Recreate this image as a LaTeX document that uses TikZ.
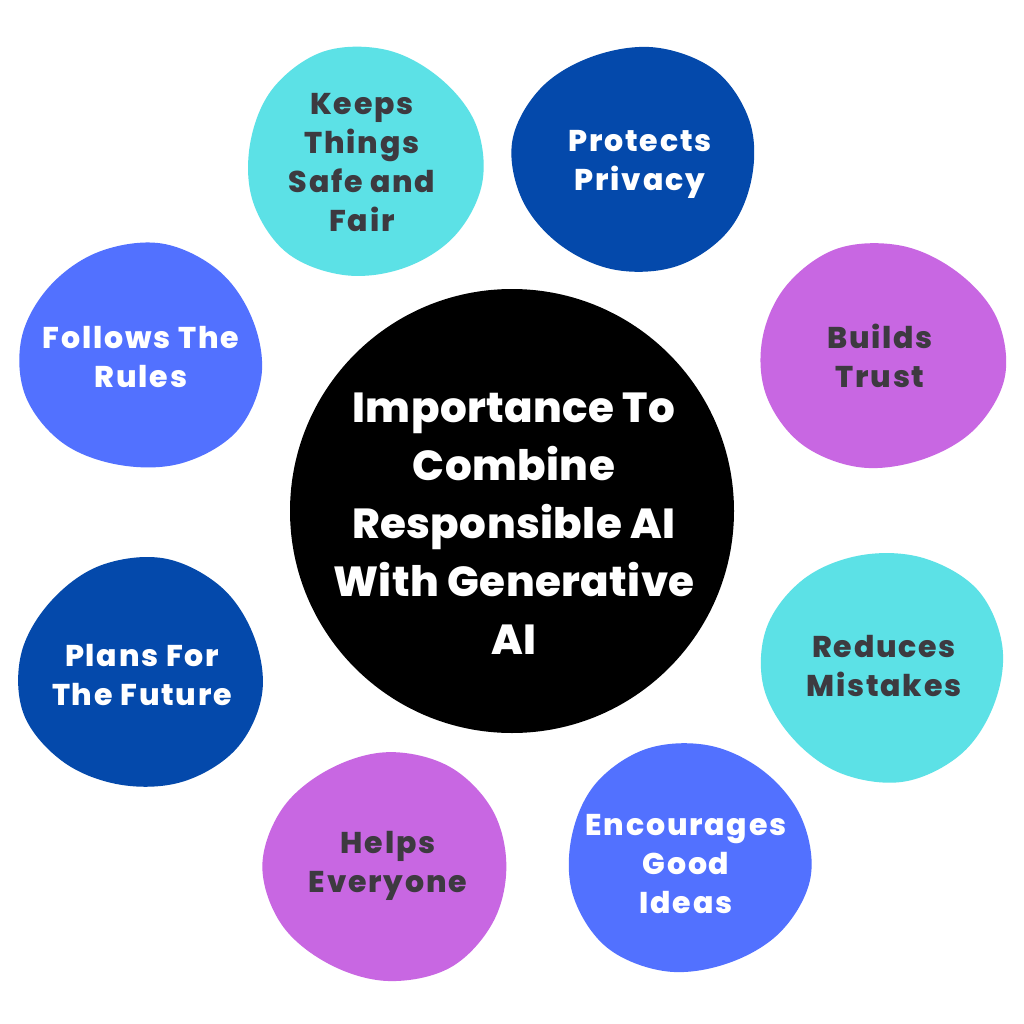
\documentclass[tikz,border=0pt]{standalone}
\usepackage{fontspec}
\setmainfont{Poppins}[BoldFont={Poppins ExtraBold}]
\definecolor{cyanb}{HTML}{5CE1E6}
\definecolor{navyb}{HTML}{0449AB}
\definecolor{blueb}{HTML}{5271FF}
\definecolor{purpb}{HTML}{C867E2}
\definecolor{txtd}{HTML}{3D3A40}
\newcommand\myblob[6]{%
 \fill[#6] plot[smooth cycle,tension=0.6] coordinates {
 ({#1+#3*1.00*cos(#5)},{#2+#4*1.00*sin(#5)})
 ({#1+#3*0.985*cos(#5+30)},{#2+#4*0.985*sin(#5+30)})
 ({#1+#3*0.97*cos(#5+60)},{#2+#4*0.97*sin(#5+60)})
 ({#1+#3*0.99*cos(#5+90)},{#2+#4*0.99*sin(#5+90)})
 ({#1+#3*1.02*cos(#5+120)},{#2+#4*1.02*sin(#5+120)})
 ({#1+#3*1.00*cos(#5+150)},{#2+#4*1.00*sin(#5+150)})
 ({#1+#3*0.98*cos(#5+180)},{#2+#4*0.98*sin(#5+180)})
 ({#1+#3*1.01*cos(#5+210)},{#2+#4*1.01*sin(#5+210)})
 ({#1+#3*1.03*cos(#5+240)},{#2+#4*1.03*sin(#5+240)})
 ({#1+#3*1.00*cos(#5+270)},{#2+#4*1.00*sin(#5+270)})
 ({#1+#3*0.97*cos(#5+300)},{#2+#4*0.97*sin(#5+300)})
 ({#1+#3*0.99*cos(#5+330)},{#2+#4*0.99*sin(#5+330)})
 };}
\tikzset{
 lbl/.style={align=center,inner sep=0pt,font=\bfseries\fontsize{30}{39}\selectfont\addfontfeatures{LetterSpace=6}},
 dk/.style={lbl,text=txtd},
 wt/.style={lbl,text=white},
 ctr/.style={align=center,inner sep=0pt,text=white,font=\bfseries\fontsize{42}{58}\selectfont\addfontfeatures{LetterSpace=1}}
}
\begin{document}
\begin{tikzpicture}[x=1pt,y=-1pt]
\useasboundingbox (0,0) rectangle (1024,1024);
\fill[white] (0,0) rectangle (1024,1024);
% blobs
\myblob{365}{163}{119}{115}{10}{cyanb}
\myblob{635}{160}{122}{113}{70}{navyb}
\myblob{880}{357}{123}{113}{130}{purpb}
\myblob{882}{665}{122}{115}{200}{cyanb}
\myblob{688}{857}{122}{115}{250}{blueb}
\myblob{388}{866}{122}{115}{300}{purpb}
\myblob{142}{675}{123}{115}{40}{navyb}
\myblob{140}{357}{122}{113}{160}{blueb}
% centre
\fill[black] (512,511) circle (222);
\node[ctr] (centre) at (514,524) {Importance To\\Combine\\Responsible AI\\With Generative\\AI};
% labels
\node[dk] (keeps) at (362,163) {Keeps\\Things\\Safe and\\Fair};
\node[wt] (protects) at (640,164) {Protects\\Privacy};
\node[dk] (builds) at (880,356) {Builds\\Trust};
\node[dk] (reduces) at (884,666) {Reduces\\Mistakes};
\node[wt] (encourages) at (686,864) {Encourages\\Good\\Ideas};
\node[dk] (helps) at (388,866) {Helps\\Everyone};
\node[wt] (plans) at (142,675) {Plans For\\The Future};
\node[wt] (follows) at (141,357) {Follows The\\Rules};
\end{tikzpicture}
\end{document}
